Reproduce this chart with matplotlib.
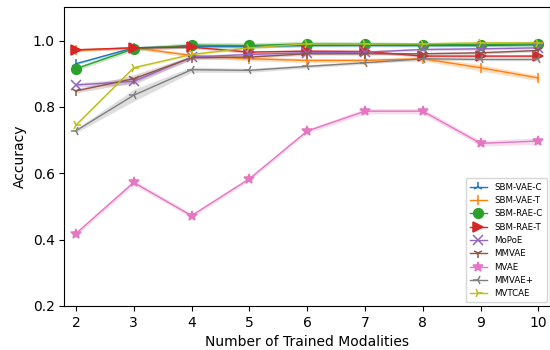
import numpy as np
import matplotlib
matplotlib.use("Agg")
import matplotlib.pyplot as plt

#
# Data
#
modalities = [2, 3, 4, 5, 6, 7, 8, 9, 10]

sbm_vae_c = [0.930, 0.978, 0.982, 0.982, 0.985, 0.985, 0.985, 0.985, 0.987]
sbm_vae_t = [0.970, 0.978, 0.955, 0.945, 0.940, 0.940, 0.945, 0.918, 0.887]
sbm_rae_c = [0.915, 0.975, 0.986, 0.985, 0.990, 0.990, 0.988, 0.988, 0.990]
sbm_rae_t = [0.972, 0.978, 0.980, 0.965, 0.968, 0.967, 0.953, 0.953, 0.953]
mopoe = [0.866, 0.877, 0.950, 0.958, 0.963, 0.965, 0.973, 0.975, 0.978]
mmvae = [0.848, 0.885, 0.948, 0.950, 0.960, 0.960, 0.960, 0.963, 0.970]
mvae = [0.418, 0.572, 0.472, 0.583, 0.727, 0.787, 0.787, 0.690, 0.697]
mmvae_plus = [0.728, 0.835, 0.912, 0.910, 0.922, 0.933, 0.945, 0.943, 0.943]
mvtcae = [0.745, 0.918, 0.958, 0.978, 0.990, 0.990, 0.990, 0.993, 0.993]

# spread of the shaded band around each line
sbm_vae_c_std = [0.004, 0.004, 0.004, 0.004, 0.004, 0.004, 0.004, 0.004, 0.004]
sbm_vae_t_std = [0.004, 0.004, 0.006, 0.006, 0.006, 0.006, 0.006, 0.010, 0.008]
sbm_rae_c_std = [0.006, 0.006, 0.008, 0.008, 0.008, 0.006, 0.006, 0.006, 0.006]
sbm_rae_t_std = [0.004, 0.004, 0.004, 0.004, 0.004, 0.004, 0.004, 0.004, 0.004]
mopoe_std = [0.006, 0.010, 0.006, 0.005, 0.004, 0.004, 0.004, 0.004, 0.004]
mmvae_std = [0.006, 0.012, 0.006, 0.005, 0.004, 0.004, 0.004, 0.004, 0.004]
mvae_std = [0.006, 0.008, 0.006, 0.006, 0.006, 0.008, 0.008, 0.008, 0.010]
mmvae_plus_std = [0.006, 0.018, 0.008, 0.006, 0.005, 0.004, 0.004, 0.004, 0.004]
mvtcae_std = [0.004, 0.004, 0.004, 0.004, 0.004, 0.004, 0.004, 0.004, 0.004]

labels = ["SBM-VAE-C", "SBM-VAE-T", "SBM-RAE-C", "SBM-RAE-T", "MoPoE",
          "MMVAE", "MVAE", "MMVAE+", "MVTCAE"]
series = [sbm_vae_c, sbm_vae_t, sbm_rae_c, sbm_rae_t, mopoe,
          mmvae, mvae, mmvae_plus, mvtcae]
spreads = [sbm_vae_c_std, sbm_vae_t_std, sbm_rae_c_std, sbm_rae_t_std, mopoe_std,
           mmvae_std, mvae_std, mmvae_plus_std, mvtcae_std]
markers = ["2", "|", "o", ">", "x", "1", "*", "3", "4"]
colors = ["C0", "C1", "C2", "C3", "C4", "C5", "C6", "C7", "C8"]

#
# Plot
#
fig = plt.figure(figsize=(5.5, 3.5), dpi=100)
ax = fig.add_axes([0.117, 0.126, 0.883, 0.853])

x = np.array(modalities)
for lab, vals, sd, m, c in zip(labels, series, spreads, markers, colors):
    vals = np.array(vals)
    sd = np.array(sd)
    ax.fill_between(x, vals - sd, vals + sd, color=c, alpha=0.25, linewidth=0)
    ax.plot(x, vals, marker=m, color=c, label=lab, linewidth=1.0,
            markersize=7, markeredgewidth=1.1)

ax.set_xlim(1.8, 10.2)
ax.set_ylim(0.2, 1.1)
ax.set_xticks(modalities)
ax.set_yticks([0.2, 0.4, 0.6, 0.8, 1.0])
ax.set_xlabel("Number of Trained Modalities")
ax.set_ylabel("Accuracy")
ax.legend(loc="lower right", fontsize=6.2, borderpad=0.5, handlelength=2.0,
          labelspacing=0.5, borderaxespad=0.4)

fig.savefig("out.png", dpi=100)
